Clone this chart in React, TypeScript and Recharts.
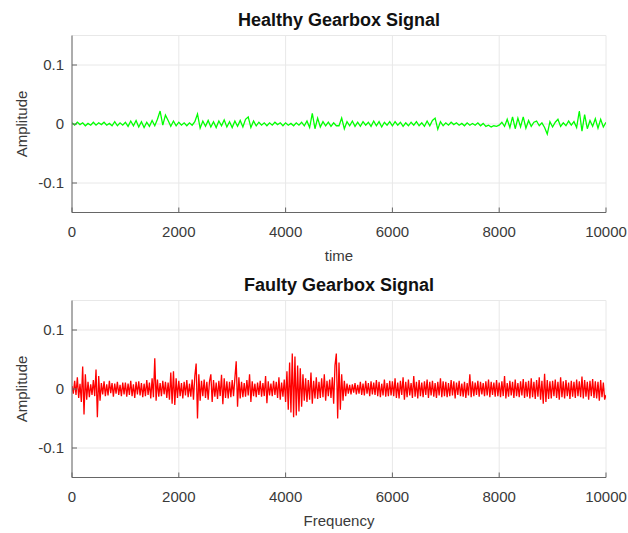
import { LineChart, Line, XAxis, YAxis, CartesianGrid } from "recharts";

const xTicks = [0, 2000, 4000, 6000, 8000, 10000];
const yTicks = [-0.1, 0, 0.1];

// healthy gearbox signal, one value every 50 samples, amplitude in 1e-3
const healthyStep = 50;
const healthy = [
  2, -2, 3, -1, 2, -3, 1, -2, 3, -2, 2, -1, 3, -2, 1, -3, 4, -3, 2, -2,
  3, -4, 5, -3, 6, -5, 4, -6, 3, -4, 6, -3, 8, 22, -2, 15, 6, -4, 5, -3,
  3, -2, 2, -3, 2, -2, 4, 17, -7, 5, -4, 6, -5, 4, -6, 5, -3, 7, -5, 4,
  -6, 5, -4, 6, -5, 8, 12, -6, 5, -3, 3, -2, 2, -3, 2, -2, 3, -1, 2, -3,
  2, -2, 1, -3, 2, -2, 3, -3, 5, -6, 18, -8, 10, -5, 4, -3, 3, -4, 2, -3,
  -3, 10, -8, 4, -3, 5, -4, 3, -4, 4, -2, 3, -4, 5, -3, 4, -5, 3, -2, 4,
  -3, 4, -2, 3, -4, 2, -3, 3, -2, 4, -3, 2, -4, 5, -3, 6, 10, -9, 4, -3,
  2, -2, 3, -1, 2, -2, 1, -3, 2, -2, 1, -2, 2, -3, 1, -4, -2, -5, -3, -4,
  -2, 3, -4, 8, -6, 12, -8, 10, -5, 12, -7, 6, -4, 3, 5, -3, 2, -6, -17, 4,
  -5, 3, 8, -4, 2, -3, 5, -2, 4, -6, 22, -12, 16, -8, 6, -4, 9, -7, 8, -5, 3,
];

// faulty gearbox signal, one value every 25 samples, amplitude in 1e-3
const faultyStep = 25;
const faulty = [
  5, -8, 14, -10, 20, -15, 9, -22, 38, -43, 25, -18, 12, -14, 8, -10, 15, -12, 33, -48,
  22, -20, 10, -9, 13, -12, 8, -11, 14, -7, 10, -13, 9, -8, 12, -10, 7, -12, 11, -9,
  11, -13, 9, -10, 14, -12, 8, -15, 12, -9, 13, -11, 10, -14, 9, -12, 15, -10, 11, -16,
  18, -14, 52, -20, 16, -13, 10, -12, 14, -9, 12, -15, 11, -18, 28, -25, 30, -27, 18, -15,
  14, -12, 10, -16, 12, -11, 15, -14, 9, -13, 16, -18, 22, 43, -50, 25, -20, 14, -12, 16,
  -15, 12, -18, 13, 25, -22, 15, -13, 11, -17, 14, -12, 24, -26, 18, -15, 13, -16, 12, -14,
  15, -12, 18, 47, -30, 20, -16, 12, -14, 10, -13, 15, -11, 25, -22, 13, -12, 9, -14, 11,
  -10, 14, -13, 10, -12, 22, -24, 13, -11, 9, -12, 14, -10, 12, -15, 20, -18, 11, -13, 16,
  -22, 30, -35, 45, -40, 60, -48, 55, -45, 40, -38, 35, -30, 25, -20, 18, -22, 15, -18, 28,
  -25, 14, -16, 20, -17, 12, -15, 18, -14, 25, -20, 14, -12, 16, -15, 20, -25, 40, 60, -50,
  45, -35, 25, -20, 14, -12, 9, -8, 7, -9, 8, -6, 10, -9, 7, -8, 12, -10, 9, -11,
  14, -8, 10, -12, 13, -9, 11, -10, 15, -12, 12, -14, 9, -11, 16, -13, 10, -12, 14, -11,
  13, -12, 18, -15, 11, -16, 14, -10, 20, -18, 12, -14, 16, -11, 10, -15, 22, -13, 12, -16,
  15, -12, 11, -14, 13, -10, 16, -15, 12, -11, 14, -13, 10, -15, 12, -11, 18, -14, 13, -12,
  12, -14, 10, -12, 15, -11, 13, -16, 11, -10, 14, -12, 9, -13, 12, -15, 10, -11, 25, -14,
  13, -12, 11, -10, 14, -13, 12, -9, 10, -12, 13, -11, 16, -14, 12, -10, 11, -13, 15, -12,
  11, -14, 13, -12, 22, -16, 10, -13, 14, -11, 12, -15, 16, -12, 10, -14, 13, -11, 17, -15,
  12, -13, 14, -16, 18, -14, 12, -17, 15, -13, 20, -18, 14, -25, 26, -22, 15, -17, 13, -16,
  14, -12, 16, -15, 12, -18, 20, -14, 13, -16, 15, -12, 11, -17, 14, -13, 12, -15, 16, -12,
  13, -14, 21, -16, 15, -13, 12, -18, 14, -12, 17, -15, 13, -16, 12, -20, 15, -14, 11, -18, -10,
];

const toRows = (vals: number[], step: number) =>
  vals.map((v, i) => ({ x: i * step, y: v / 1000 }));

const font = '"Liberation Sans", Arial, Helvetica, sans-serif';
const axisColor = "#666";
const textColor = "#3a3a3a";
const gridColor = "#e8e8e8";
const TICK = 5;
const X_GAP = 14;
const Y_GAP = 8;

// MATLAB-style ticks: labels outside, short marks pointing into the box
const BottomTick = (p: any) => (
  <g>
    <line x1={p.x} x2={p.x} y1={p.y - X_GAP} y2={p.y - X_GAP - TICK} stroke={axisColor} />
    <text x={p.x} y={p.y} dy="0.71em" textAnchor="middle" fill={textColor} fontSize={15}>
      {p.payload.value}
    </text>
  </g>
);
const LeftTick = (p: any) => (
  <g>
    <line x1={p.x + Y_GAP} x2={p.x + Y_GAP + TICK} y1={p.y} y2={p.y} stroke={axisColor} />
    <text x={p.x} y={p.y} dy="0.35em" textAnchor="end" fill={textColor} fontSize={15}>
      {p.payload.value}
    </text>
  </g>
);
const TopTick = (p: any) => (
  <line x1={p.x} x2={p.x} y1={p.y} y2={p.y + TICK} stroke={axisColor} />
);
const RightTick = (p: any) => (
  <line x1={p.x} x2={p.x - TICK} y1={p.y} y2={p.y} stroke={axisColor} />
);

function Panel({
  title,
  xLabel,
  rows,
  color,
  top,
  height,
  marginTop,
}: {
  title: string;
  xLabel: string;
  rows: { x: number; y: number }[];
  color: string;
  top: number;
  height: number;
  marginTop: number;
}) {
  const marginBottom = height - marginTop - 177 - 30;
  return (
    <div style={{ position: "absolute", left: 0, top, width: 628, height }}>
      <div
        style={{
          position: "absolute",
          left: 72,
          width: 534,
          top: marginTop - 25,
          textAlign: "center",
          fontFamily: font,
          fontWeight: "bold",
          fontSize: 18,
          lineHeight: "19px",
          color: "#111",
        }}
      >
        {title}
      </div>
      <LineChart
        width={628}
        height={height}
        data={rows}
        margin={{ top: marginTop, right: 22, left: 0, bottom: marginBottom }}
        style={{ fontFamily: font }}
      >
        <CartesianGrid stroke={gridColor} strokeWidth={1} />
        <XAxis
          dataKey="x"
          type="number"
          domain={[0, 10000]}
          ticks={xTicks}
          interval={0}
          allowDataOverflow
          height={30}
          tickSize={0}
          tickMargin={X_GAP}
          tickLine={false}
          stroke={axisColor}
          tick={BottomTick}
          label={{ value: xLabel, position: "bottom", offset: 8, fill: textColor, fontSize: 15 }}
        />
        <XAxis
          xAxisId="top"
          orientation="top"
          dataKey="x"
          type="number"
          domain={[0, 10000]}
          ticks={xTicks}
          interval={0}
          height={0}
          tickSize={0}
          tickMargin={0}
          tickLine={false}
          tick={TopTick}
          stroke={axisColor}
        />
        <YAxis
          type="number"
          domain={[-0.15, 0.15]}
          ticks={yTicks}
          interval={0}
          allowDataOverflow
          width={72}
          tickSize={0}
          tickMargin={Y_GAP}
          tickLine={false}
          stroke={axisColor}
          tick={LeftTick}
          label={{
            value: "Amplitude",
            angle: -90,
            position: "insideLeft",
            offset: 22,
            fill: textColor,
            fontSize: 15,
            style: { textAnchor: "middle" },
          }}
        />
        <YAxis
          yAxisId="right"
          orientation="right"
          type="number"
          domain={[-0.15, 0.15]}
          ticks={yTicks}
          interval={0}
          width={0}
          tickSize={0}
          tickMargin={0}
          tickLine={false}
          tick={RightTick}
          stroke={axisColor}
        />
        <Line
          dataKey="y"
          type="linear"
          stroke={color}
          strokeWidth={1.3}
          dot={false}
          isAnimationActive={false}
        />
      </LineChart>
    </div>
  );
}

export default function App() {
  return (
    <div
      style={{
        position: "absolute",
        left: 0,
        top: 0,
        width: 628,
        height: 533,
        background: "#fff",
        overflow: "hidden",
      }}
    >
      <Panel
        title="Healthy Gearbox Signal"
        xLabel="time"
        rows={toRows(healthy, healthyStep)}
        color="#00ff00"
        top={0}
        height={266}
        marginTop={35.5}
      />
      <Panel
        title="Faulty Gearbox Signal"
        xLabel="Frequency"
        rows={toRows(faulty, faultyStep)}
        color="#ff0000"
        top={266}
        height={267}
        marginTop={34.5}
      />
    </div>
  );
}
